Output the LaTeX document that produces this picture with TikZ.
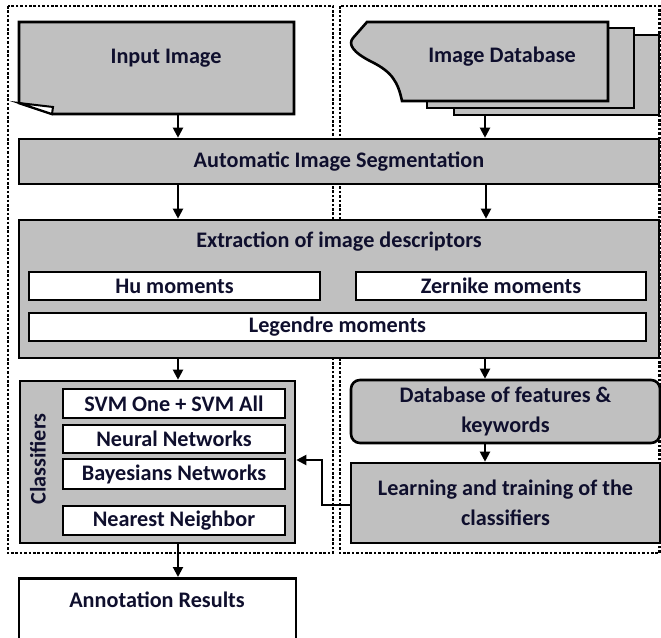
\documentclass[tikz,border=0pt]{standalone}
\usepackage{fontspec}
\setmainfont{Carlito}
\usetikzlibrary{arrows.meta}
\definecolor{boxgray}{RGB}{192,192,192}
\definecolor{txt}{RGB}{15,15,45}
\begin{document}
\begin{tikzpicture}[x=1pt,y=-1pt,
  font=\fontsize{22.2}{29.5}\selectfont\bfseries, text=txt,
  graybox/.style={draw=black, line width=2.6pt, fill=boxgray, inner sep=0pt, align=center},
  whitebox/.style={draw=black, line width=2.6pt, fill=white, inner sep=0pt, align=center},
  shapeline/.style={draw=black, line width=2.6pt, fill=boxgray, line join=miter},
  arr/.style={line width=2pt, -{Triangle[length=10pt,width=10pt]}},
  dotbox/.style={line width=2.8pt, dash pattern=on 2.6pt off 1.8pt}]
\clip (0,0) rectangle (661,637);
\fill[white] (0,0) rectangle (661,637);
% dotted groups
\draw[dotbox] (8,6) rectangle (333,553);
\draw[dotbox] (340,6) rectangle (659.5,553);
% input image (document shape)
\path[shapeline] (19,22) -- (294,22) -- (294,114) -- (52,114) -- (19,103) -- cycle;
\path[draw=black, line width=2pt, fill=white, line join=miter] (19,103) -- (53,107) -- (52,114) -- cycle;
\node (input) at (166,58) {Input Image};
% image database (stacked)
\path[shapeline] (454,35) rectangle (659,115);
\path[shapeline] (427,28) rectangle (634,108);
\path[shapeline] (367,22) -- (608,22) -- (608,101) -- (402,101)
  .. controls (398,82) and (392,72) .. (372,62)
  .. controls (352,52) and (348,44) .. (353,38) -- cycle;
\node (db) at (502,57) {Image Database};
\coordinate (inbot) at (178,114);
\coordinate (dbbot) at (485,115);
\coordinate (cL) at (178,0);
\coordinate (cR) at (486,0);
% segmentation
\node[graybox, minimum width=640pt, minimum height=45pt] (seg) at (339,161.5) {Automatic Image Segmentation};
% extraction
\node[graybox, minimum width=640pt, minimum height=138pt] (extr) at (339,289) {};
\node (extrl) at (339,242) {Extraction of image descriptors};
\node[whitebox, minimum width=291pt, minimum height=28pt] (hu) at (174.5,286) {Hu moments};
\node[whitebox, minimum width=290pt, minimum height=28pt] (zer) at (501,286) {Zernike moments};
\node[whitebox, minimum width=617pt, minimum height=28pt] (leg) at (337.5,327) {Legendre moments};
% classifiers
\node[graybox, minimum width=275pt, minimum height=162pt] (cls) at (157.5,462) {};
\node[rotate=90] (clsl) at (38,459) {Classifiers};
\node[whitebox, minimum width=222pt, minimum height=29pt] (svm) at (174,403.5) {SVM One + SVM All};
\node[whitebox, minimum width=222pt, minimum height=28pt] (nn) at (174,439) {Neural Networks};
\node[whitebox, minimum width=222pt, minimum height=30pt] (bn) at (174,474) {Bayesians Networks};
\node[whitebox, minimum width=222pt, minimum height=29pt] (nnb) at (174,520.5) {Nearest Neighbor};
% annotation
\node[whitebox, minimum width=277pt, minimum height=68pt, anchor=north] (ann) at (157.5,577) {};
\node (annl) at (157,600) {Annotation Results};
% right column
\node[graybox, rounded corners=9pt, minimum width=309pt, minimum height=63pt] (dbf) at (505.5,411.5) {Database of features \&\\keywords};
\node[graybox, minimum width=309pt, minimum height=80pt] (learn) at (505.5,503) {Learning and training of the\\classifiers};
\coordinate (fb) at (322,0);
% connectors
\draw[arr] (inbot) -- (seg.north -| inbot);
\draw[arr] (dbbot) -- (seg.north -| dbbot);
\draw[arr] (seg.south -| cL) -- (extr.north -| cL);
\draw[arr] (seg.south -| cR) -- (extr.north -| cR);
\draw[arr] (extr.south -| cL) -- (cls.north -| cL);
\draw[arr] (extr.south -| dbbot) -- (dbf.north -| dbbot);
\draw[arr] (dbf.south -| dbbot) -- (learn.north -| dbbot);
\draw[arr] (cls.south -| cL) -- (ann.north -| cL);
\draw[arr] ([yshift=-2pt]learn.west) -- ([yshift=-2pt]learn.west -| fb) |- ([yshift=2pt]cls.east);
\end{tikzpicture}
\end{document}
